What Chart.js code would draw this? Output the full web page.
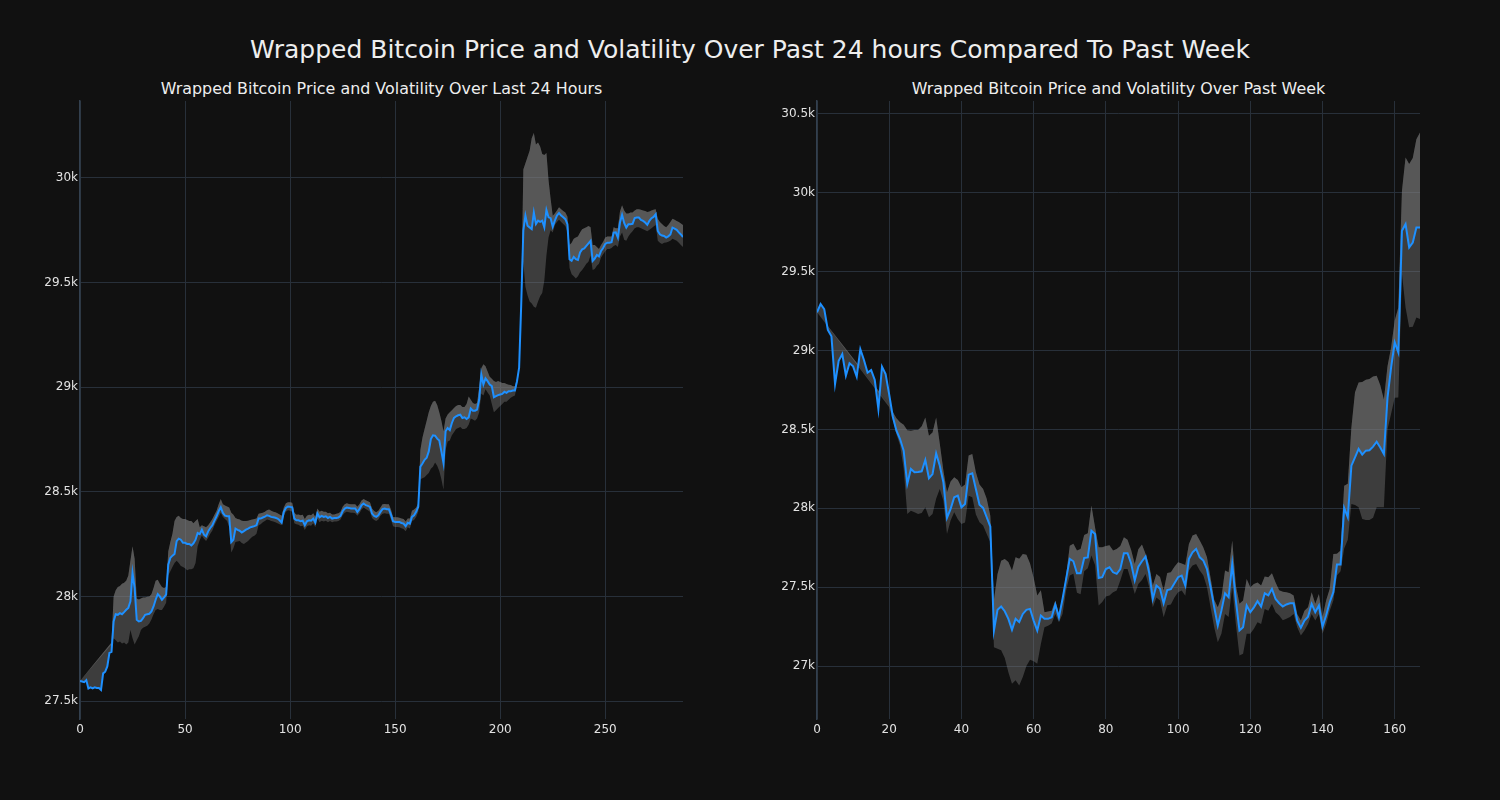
<!DOCTYPE html>
<html><head><meta charset="utf-8">
<script src="https://cdn.jsdelivr.net/npm/chart.js@4.4.0/dist/chart.umd.min.js"></script>
<style>
html,body{margin:0;padding:0;background:#111111;width:1500px;height:800px;overflow:hidden;font-family:"DejaVu Sans",sans-serif;}
.t{position:absolute;color:#eeeeee;text-align:center;white-space:nowrap;}
#main{left:0;width:1500px;top:35px;font-size:25px;line-height:30px;}
#sub1{left:80px;width:603px;top:79px;font-size:15.9px;line-height:20px;}
#sub2{left:817px;width:603px;top:79px;font-size:15.9px;line-height:20px;}
canvas{position:absolute;top:0;}
#c1{left:0;} #c2{left:750px;}
</style></head><body>
<div class="t" id="main">Wrapped Bitcoin Price and Volatility Over Past 24 hours Compared To Past Week</div>
<div class="t" id="sub1">Wrapped Bitcoin Price and Volatility Over Last 24 Hours</div>
<div class="t" id="sub2">Wrapped Bitcoin Price and Volatility Over Past Week</div>
<canvas id="c1" width="750" height="800"></canvas>
<canvas id="c2" width="750" height="800"></canvas>
<script>
const dayPrice = [27596,27593,27590,27600,27560,27565,27560,27565,27562,27562,
27553,27632,27640,27665,27730,27735,27880,27915,27912,27920,
27915,27925,27936,27945,27976,28112,28040,27888,27880,27883,
27896,27912,27915,27917,27928,27952,27984,28011,28000,27984,
27995,28008,28152,28184,28195,28203,28264,28276,28271,28256,
28256,28251,28251,28244,28254,28271,28303,28298,28319,28295,
28287,28311,28327,28340,28362,28383,28407,28426,28399,28386,
28383,28383,28260,28271,28324,28318,28314,28305,28312,28319,
28324,28330,28333,28336,28340,28372,28372,28377,28381,28388,
28385,28380,28378,28376,28372,28364,28353,28404,28423,28430,
28428,28426,28372,28364,28364,28359,28362,28340,28359,28364,
28362,28372,28353,28396,28378,28385,28380,28383,28375,28380,
28372,28375,28375,28377,28385,28407,28420,28425,28423,28420,
28420,28420,28404,28417,28436,28444,28436,28433,28428,28396,
28385,28380,28388,28404,28417,28420,28417,28417,28391,28359,
28356,28356,28356,28351,28348,28335,28352,28348,28380,28388,
28404,28428,28620,28635,28653,28663,28693,28752,28770,28768,
28754,28745,28693,28637,28789,28805,28795,28829,28853,28861,
28866,28869,28853,28856,28848,28856,28898,28888,28888,28893,
28941,29061,29013,29042,29029,29013,29005,28952,28957,28962,
28965,28968,28978,28973,28981,28981,28984,28984,29029,29093,
29396,29748,29820,29772,29764,29756,29835,29780,29796,29790,
29796,29764,29847,29812,29808,29767,29796,29820,29832,29820,
29812,29803,29779,29612,29604,29623,29612,29608,29644,29659,
29663,29675,29687,29699,29604,29615,29632,29625,29651,29665,
29685,29691,29691,29693,29739,29740,29715,29787,29824,29785,
29763,29779,29779,29781,29808,29811,29811,29800,29795,29787,
29776,29795,29808,29814,29827,29747,29731,29725,29723,29715,
29721,29730,29763,29758,29752,29740,29730,29718];

const dayUpper = [27596,null,null,null,null,null,null,null,null,null,
null,null,null,null,null,27780,28000,28030,28045,28050,
28060,28065,28075,28100,28170,28240,28180,27990,27985,27990,
27995,27995,27998,28000,28010,28040,28075,28080,28060,28045,
28040,28045,28215,28260,28300,28360,28380,28385,28375,28370,
28370,28365,28360,28360,28350,28360,28370,28330,28340,28335,
28330,28340,28355,28370,28390,28410,28440,28465,28440,28435,
28430,28425,28400,28390,28375,28370,28368,28362,28360,28360,
28362,28365,28368,28370,28372,28395,28398,28400,28405,28412,
28415,28410,28405,28402,28398,28392,28385,28425,28445,28450,
28450,28448,28400,28390,28392,28388,28390,28370,28385,28390,
28388,28398,28380,28420,28405,28410,28405,28405,28398,28400,
28392,28392,28395,28398,28405,28428,28440,28445,28442,28440,
28440,28440,28428,28440,28458,28465,28460,28455,28450,28420,
28408,28402,28410,28425,28440,28442,28440,28440,28415,28380,
28378,28378,28376,28372,28370,28358,28372,28372,28410,28415,
28425,28445,28700,28760,28800,28840,28880,28910,28930,28935,
28915,28880,28840,28790,28850,28870,28880,28890,28900,28910,
28915,28915,28905,28905,28920,28955,28940,28925,28920,28925,
29000,29090,29110,29100,29075,29050,29040,29030,29025,29030,
29025,29020,29020,29015,29012,29010,29005,29005,29040,29100,
29420,30040,30070,30100,30130,30190,30215,30160,30170,30150,
30115,30110,30120,29990,29900,29820,29830,29845,29860,29850,
29842,29835,29815,29680,29690,29710,29715,29720,29740,29755,
29760,29765,29770,29765,29680,29680,29670,29660,29680,29695,
29715,29720,29720,29720,29765,29760,29760,29840,29870,29845,
29830,29830,29835,29835,29845,29850,29850,29848,29845,29842,
29838,29840,29845,29848,29850,29805,29790,29780,29770,29765,
29775,29790,29805,29800,29795,29790,29782,29775];

const dayLower = [27596,null,null,null,null,null,null,null,null,null,
null,null,null,null,null,27770,27800,27790,27780,27785,
27775,27780,27770,27780,27840,27800,27770,27790,27810,27840,
27850,27855,27860,27870,27890,27915,27935,27940,27935,27935,
27950,27970,28100,28120,28140,28160,28170,28160,28145,28140,
28135,28125,28130,28130,28135,28160,28240,28270,28290,28275,
28265,28280,28300,28315,28340,28360,28380,28400,28380,28370,
28360,28330,28210,28230,28260,28262,28265,28255,28250,28258,
28265,28275,28285,28290,28300,28340,28345,28355,28360,28368,
28365,28360,28358,28355,28350,28345,28340,28385,28405,28412,
28410,28405,28350,28345,28342,28335,28338,28318,28335,28340,
28338,28350,28330,28372,28355,28362,28358,28362,28355,28360,
28355,28358,28358,28360,28368,28388,28400,28405,28402,28400,
28400,28398,28385,28398,28415,28425,28418,28412,28405,28375,
28365,28360,28368,28385,28395,28398,28395,28395,28368,28335,
28332,28332,28330,28326,28322,28312,28330,28325,28360,28365,
28380,28405,28560,28565,28570,28580,28590,28610,28620,28640,
28625,28600,28560,28510,28700,28740,28745,28770,28785,28800,
28805,28810,28800,28800,28805,28820,28850,28845,28840,28850,
28880,28970,28960,28990,28975,28960,28920,28880,28890,28900,
28910,28920,28930,28930,28940,28950,28955,28960,29010,29080,
29380,29600,29480,29440,29410,29400,29385,29380,29410,29435,
29450,29510,29630,29715,29750,29740,29775,29790,29800,29790,
29780,29770,29740,29570,29540,29530,29520,29530,29550,29560,
29575,29590,29600,29630,29560,29565,29580,29590,29620,29635,
29650,29660,29660,29665,29675,29680,29670,29720,29740,29705,
29700,29720,29735,29745,29760,29765,29765,29760,29755,29750,
29745,29752,29760,29768,29775,29700,29690,29685,29690,29692,
29695,29700,29710,29705,29700,29690,29680,29670];

const weekPrice = [29242,29295,29263,29130,29090,28788,28935,28978,28840,28919,
28900,28834,29009,28940,28860,28876,28813,28629,28898,28851,
28720,28580,28492,28439,28365,28154,28249,28228,28230,28234,
28306,28190,28217,28348,28270,28165,27939,27996,28070,28080,
28006,28027,28213,28222,28122,28023,28002,27943,27884,27225,
27356,27377,27347,27299,27229,27299,27278,27330,27356,27362,
27288,27225,27320,27299,27299,27309,27389,27309,27425,27552,
27679,27664,27588,27588,27685,27688,27858,27837,27558,27563,
27615,27626,27594,27584,27615,27715,27715,27650,27542,27630,
27664,27694,27590,27425,27510,27489,27398,27482,27487,27525,
27563,27573,27510,27679,27721,27742,27689,27668,27615,27499,
27373,27256,27351,27461,27436,27647,27415,27225,27246,27383,
27341,27372,27411,27377,27461,27448,27489,27425,27398,27377,
27390,27398,27398,27288,27242,27288,27313,27394,27341,27383,
27250,27320,27404,27468,27643,27643,28002,27943,28270,28323,
28376,28340,28365,28368,28391,28422,28385,28344,28700,28893,
29052,28988,29759,29801,29654,29685,29780,29780];

const weekUpper = [29242,null,null,null,null,null,null,null,null,null,
null,null,null,null,null,null,null,null,null,null,
28660,28610,28570,28545,28530,28495,28492,28496,28496,28520,
28576,28460,28480,28576,28410,28239,28101,28170,28196,28180,
28133,28150,28334,28344,28228,28150,28122,28060,27953,27420,
27584,27668,27679,27660,27605,27689,27680,27710,27705,27650,
27560,27447,27480,27340,27345,27351,27415,27330,27440,27575,
27763,27775,27732,27742,27830,27841,28017,27880,27753,27753,
27760,27765,27732,27742,27760,27816,27800,27735,27647,27740,
27770,27710,27640,27510,27584,27565,27478,27590,27595,27630,
27658,27650,27640,27774,27827,27837,27795,27752,27690,27560,
27420,27373,27436,27605,27595,27795,27510,27395,27415,27552,
27500,27520,27530,27510,27567,27563,27588,27530,27480,27470,
27468,27462,27447,27330,27288,27350,27373,27468,27395,27457,
27310,27415,27490,27710,27711,27732,28143,28155,28513,28735,
28798,28800,28815,28820,28835,28840,28780,28690,28900,29020,
29190,29273,30013,30224,30182,30220,30340,30382];

const weekLower = [29242,null,null,null,null,null,null,null,null,null,
null,null,null,null,null,null,null,null,null,null,
28640,28560,28470,28400,28250,27964,27985,27975,27964,27970,
28006,27943,27964,28060,28122,28048,27837,27922,27975,27930,
27900,27910,28080,28070,27960,27911,27890,27837,27784,27119,
27110,27100,27050,26960,26887,26910,26876,26930,27000,27040,
27030,27014,27140,27246,27255,27270,27330,27278,27330,27480,
27573,27585,27465,27455,27600,27620,27700,27640,27383,27405,
27440,27447,27467,27478,27542,27615,27615,27540,27457,27520,
27545,27584,27500,27373,27435,27415,27309,27385,27390,27435,
27468,27478,27445,27605,27637,27647,27605,27573,27500,27373,
27246,27151,27204,27330,27310,27500,27267,27066,27077,27204,
27204,27236,27278,27267,27362,27351,27394,27341,27320,27290,
27300,27310,27330,27246,27193,27225,27267,27330,27288,27330,
27204,27267,27351,27415,27573,27600,27745,27800,28027,28020,
28006,27932,27925,27925,27940,28006,28006,28006,28500,28600,
28700,28703,29485,29273,29147,29150,29210,29200];

const dayXTicks = [0, 50, 100, 150, 200, 250];
const dayYTicks = [27500, 28000, 28500, 29000, 29500, 30000];
const weekXTicks = [0, 20, 40, 60, 80, 100, 120, 140, 160];
const weekYTicks = [27000, 27500, 28000, 28500, 29000, 29500, 30000, 30500];

const TXT = '#e2e2e2';
const GRID = '#28303a';
const SPINE = '#33404f';
const BAND = 'rgba(128,128,128,0.40)';
const LINE = '#1e90ff';

function pts(arr) { return arr.map((v, i) => ({x: i, y: v})); }

function makeChart(id, price, upper, lower, xMax, yMin, yMax, xTicks, yTicks, yAxisW, padRight) {
  new Chart(document.getElementById(id), {
    type: 'line',
    data: {
      datasets: [
        {data: pts(upper), borderColor: 'transparent', borderWidth: 0, pointRadius: 0, spanGaps: true,
         backgroundColor: BAND, fill: 1, order: 2},
        {data: pts(lower), borderColor: 'transparent', borderWidth: 0, pointRadius: 0, spanGaps: true,
         backgroundColor: 'transparent', fill: false, order: 2},
        {data: pts(upper), borderColor: 'transparent', borderWidth: 0, pointRadius: 0, spanGaps: true,
         backgroundColor: BAND, fill: 3, order: 1},
        {data: pts(price), borderColor: LINE, borderWidth: 2, pointRadius: 0, fill: false,
         tension: 0, order: -1}
      ]
    },
    options: {
      responsive: false,
      animation: false,
      devicePixelRatio: 1,
      layout: {padding: {left: 0, right: padRight, top: 101, bottom: 51}},
      plugins: {legend: {display: false}, tooltip: {enabled: false}, title: {display: false}},
      scales: {
        x: {
          type: 'linear', min: 0, max: xMax,
          afterFit: s => { s.height = 30; },
          afterBuildTicks: s => { s.ticks = xTicks.map(v => ({value: v})); },
          ticks: {color: TXT, font: {family: 'DejaVu Sans', size: 12}, padding: 4, maxRotation: 0,
                  autoSkip: false, includeBounds: false, callback: v => String(v)},
          grid: {color: GRID, lineWidth: 1, drawTicks: false},
          border: {display: false}
        },
        y: {
          type: 'linear', min: yMin, max: yMax,
          afterFit: s => { s.width = yAxisW; },
          afterBuildTicks: s => { s.ticks = yTicks.map(v => ({value: v})); },
          ticks: {color: TXT, font: {family: 'DejaVu Sans', size: 12}, padding: 2,
                  autoSkip: false, includeBounds: false, callback: v => (v / 1000) + 'k'},
          grid: {color: GRID, lineWidth: 1, drawTicks: false},
          border: {display: true, color: SPINE, width: 1.5}
        }
      }
    }
  });
}

makeChart('c1', dayPrice, dayUpper, dayLower, 287, 27414, 30368, dayXTicks, dayYTicks, 80, 67);
makeChart('c2', weekPrice, weekUpper, weekLower, 167, 26664, 30582, weekXTicks, weekYTicks, 67, 80);
</script>
</body></html>
